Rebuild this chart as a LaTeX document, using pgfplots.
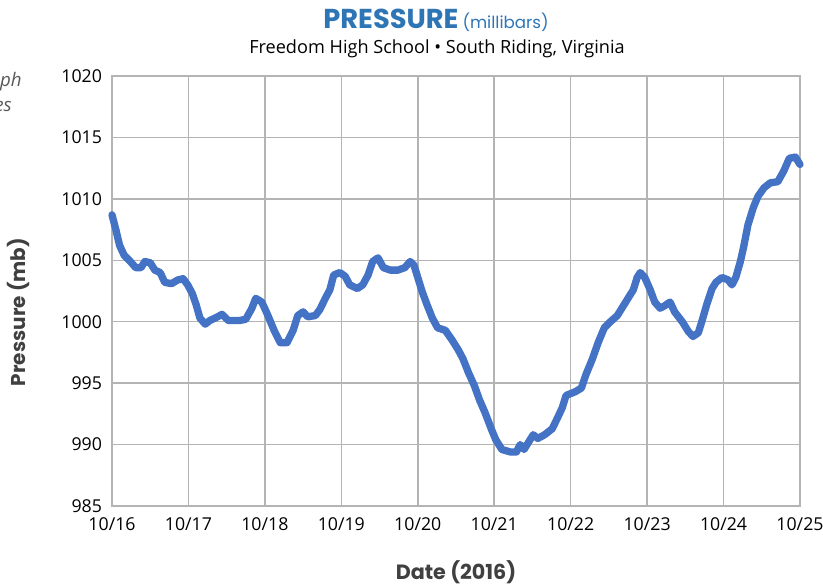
\documentclass[border=0pt]{standalone}
\usepackage{pgfplots}
\pgfplotsset{compat=1.18}
\usepackage{fontspec}
\setmainfont{Open Sans}
\newfontfamily\titlefont{Poppins}
\definecolor{lineblue}{HTML}{4472C4}
\definecolor{titleblue}{HTML}{2E75B6}
\definecolor{gridgray}{HTML}{B4B4B4}
\definecolor{labgray}{HTML}{404040}
\definecolor{notegray}{HTML}{595959}
\begin{document}
\begin{tikzpicture}[x=0.75pt,y=0.75pt]
% bounding box: image 823x585 px, axis SW at (112,506)
\path[use as bounding box] (-112,-79) rectangle (711,506);
\begin{axis}[
  at={(0,0)}, anchor=south west,
  scale only axis,
  width=516pt, height=322.5pt,
  xmin=0, xmax=9, ymin=985, ymax=1020,
  xtick={0,...,9},
  xticklabels={10/16,10/17,10/18,10/19,10/20,10/21,10/22,10/23,10/24,10/25},
  ytick={985,990,...,1020},
  grid=major,
  major grid style={gridgray, line width=1.1pt},
  axis line style={gridgray, line width=1.1pt},
  tick style={draw=none},
  ticklabel style={font=\fontsize{13.3}{15}\selectfont, text=black},
  /pgf/number format/assume math mode=true,
  /pgf/number format/1000 sep={},
  yticklabel style={xshift=-4pt},
  xticklabel style={yshift=-5pt},
  clip=false,
]
\addplot[lineblue, line width=5.5pt, line join=round, line cap=round] coordinates {
(0,1008.7) (0.05,1007.5) (0.10,1006.2) (0.16,1005.4) (0.24,1004.9) (0.31,1004.4)
(0.38,1004.4) (0.43,1004.9) (0.50,1004.8) (0.56,1004.2) (0.63,1004.0) (0.69,1003.2)
(0.78,1003.1) (0.86,1003.4) (0.93,1003.5) (0.99,1003.0) (1.05,1002.3) (1.10,1001.4)
(1.15,1000.3) (1.22,999.8) (1.28,1000.1) (1.35,1000.3) (1.44,1000.6) (1.52,1000.1)
(1.67,1000.1) (1.75,1000.2) (1.83,1001.1) (1.88,1001.9) (1.96,1001.6) (2.04,1000.5)
(2.12,999.3) (2.20,998.3) (2.29,998.3) (2.37,999.3) (2.43,1000.5) (2.50,1000.8)
(2.56,1000.4) (2.66,1000.5) (2.72,1001.0) (2.79,1001.9) (2.85,1002.6) (2.90,1003.8)
(2.98,1004.0) (3.05,1003.7) (3.11,1003.0) (3.21,1002.7) (3.28,1003.0) (3.35,1003.8)
(3.41,1004.9) (3.48,1005.2) (3.55,1004.4) (3.64,1004.2) (3.74,1004.2) (3.83,1004.4)
(3.90,1004.9) (3.95,1004.6) (4.00,1003.6) (4.06,1002.4) (4.12,1001.4) (4.19,1000.3)
(4.26,999.5) (4.36,999.3) (4.45,998.5) (4.53,997.7) (4.59,997.0) (4.66,995.9)
(4.74,994.8) (4.81,993.6) (4.88,992.6) (4.96,991.3) (5.02,990.4) (5.10,989.6)
(5.21,989.4) (5.29,989.4) (5.34,990.0) (5.39,989.6) (5.44,990.1) (5.51,990.8)
(5.57,990.5) (5.66,990.8) (5.76,991.3) (5.83,992.2) (5.89,993.0) (5.94,994.0)
(6.06,994.3) (6.14,994.6) (6.20,995.7) (6.28,996.9) (6.36,998.3) (6.44,999.5)
(6.52,1000.0) (6.61,1000.5) (6.67,1001.1) (6.75,1001.9) (6.82,1002.6) (6.87,1003.6)
(6.91,1004.0) (6.97,1003.6) (7.04,1002.6) (7.10,1001.6) (7.17,1001.1) (7.23,1001.3)
(7.30,1001.6) (7.36,1000.8) (7.46,1000.0) (7.54,999.2) (7.60,998.8) (7.67,999.1)
(7.72,1000.1) (7.78,1001.4) (7.85,1002.7) (7.90,1003.2) (7.98,1003.6) (8.06,1003.4)
(8.11,1003.0) (8.16,1003.6) (8.22,1004.9) (8.26,1006.0) (8.32,1007.9) (8.39,1009.3)
(8.45,1010.2) (8.53,1010.9) (8.61,1011.3) (8.71,1011.4) (8.79,1012.3) (8.86,1013.3)
(8.94,1013.4) (9.0,1012.8)
};
\end{axis}
% titles
\node[anchor=base, inner sep=0] at (324,477) {{\titlefont\bfseries\fontsize{20.5}{22}\selectfont\color{titleblue}PRESSURE}\hspace{3pt}{\titlefont\fontsize{12.5}{14}\selectfont\color{titleblue}(millibars)}};
\node[anchor=base, inner sep=0] at (325,452) {\fontsize{13.6}{15}\selectfont Freedom High School \textbullet{} South Riding, Virginia};
% axis labels
\node[rotate=90, inner sep=0, text=labgray] at (-94,194) {\titlefont\bfseries\fontsize{15}{17}\selectfont Pressure (mb)};
\node[inner sep=0, text=labgray] at (344,-66) {\titlefont\bfseries\fontsize{15.5}{17}\selectfont Date (2016)};
% cut-off side note (cut off at the left edge as in the reference)
\node[anchor=base east, inner sep=0, text=notegray] at (-90,419) {\itshape\fontsize{14}{16}\selectfont ph};
\node[anchor=base east, inner sep=0, text=notegray] at (-100,394) {\itshape\fontsize{14}{16}\selectfont es};
\end{tikzpicture}
\end{document}
